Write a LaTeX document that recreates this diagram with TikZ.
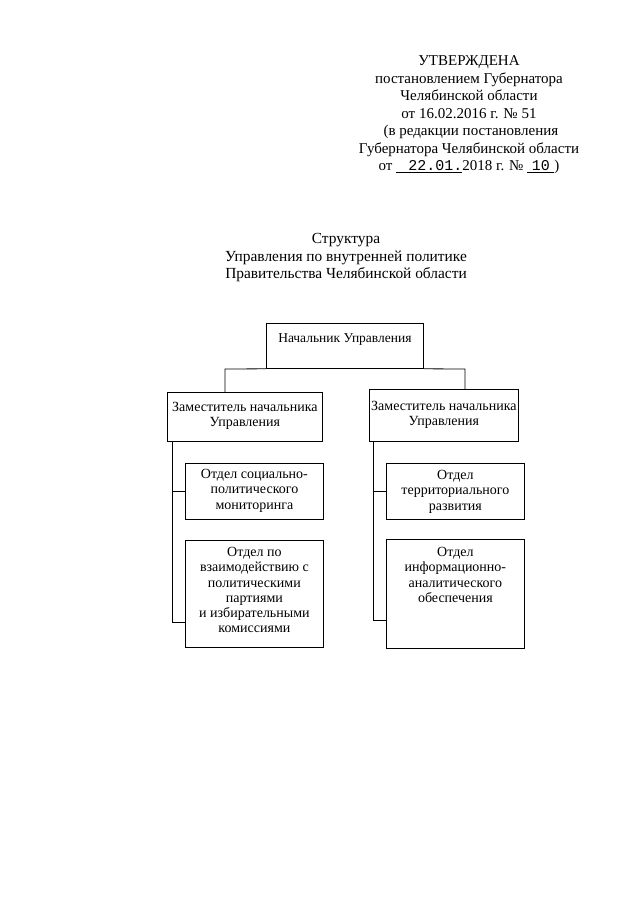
\documentclass[tikz,border=0pt]{standalone}
\usepackage{fontspec}
\setmainfont{Liberation Serif}
\newfontfamily\typefont{Liberation Mono}
\begin{document}
\begin{tikzpicture}[x=1pt,y=-1pt,
  box/.style={draw, line width=0.8pt, inner sep=0pt, anchor=north west},
  txt/.style={font=\fontsize{14}{15.3}\selectfont, align=center, inner sep=0pt, anchor=north},
  hdr/.style={font=\fontsize{15}{17.5}\selectfont, align=center, inner sep=0pt},
  conn/.style={line width=0.8pt}]
\useasboundingbox[fill=white] (0,0) rectangle (640,905);

% header
\node[hdr] (head) at (469,115) {УТВЕРЖДЕНА\\постановлением Губернатора\\Челябинской области\\от 16.02.2016 г. № 51\\\ (в редакции постановления\\Губернатора Челябинской области\\от \underline{\makebox[66pt][r]{\typefont 22.01.}}2018 г. № \underline{\makebox[27pt]{\typefont 10}})};

% title
\node[hdr, font=\fontsize{15.4}{17.5}\selectfont] (title) at (346,258) {Структура\\Управления по внутренней политике\\Правительства Челябинской области};

% boxes
\node[box, minimum width=157pt, minimum height=45pt] (top) at (266,323) {};
\node[box, minimum width=155pt, minimum height=49pt] (d1) at (167,392) {};
\node[box, minimum width=149pt, minimum height=52pt] (d2) at (369,389) {};
\node[box, minimum width=138pt, minimum height=56pt] (o1) at (185,463) {};
\node[box, minimum width=138pt, minimum height=107pt] (o2) at (185,540) {};
\node[box, minimum width=138pt, minimum height=56pt] (o3) at (386,463) {};
\node[box, minimum width=138pt, minimum height=109pt] (o4) at (386,539) {};

% texts
\node[txt, font=\fontsize{13.5}{15.3}\selectfont] (topt) at ([yshift=-10pt]top.north) {Начальник Управления};
\node[txt] (d1t) at ([yshift=-10pt]d1.north) {Заместитель начальника\\Управления};
\node[txt] (d2t) at ([yshift=-12pt]d2.north) {Заместитель начальника\\Управления};
\node[txt] (o1t) at ([yshift=-6pt]o1.north) {Отдел социально-\\политического\\мониторинга};
\node[txt] (o2t) at ([yshift=-7pt]o2.north) {Отдел по\\взаимодействию с\\политическими\\партиями\\и избирательными\\комиссиями};
\node[txt] (o3t) at ([yshift=-7pt]o3.north) {Отдел\\территориального\\развития};
\node[txt] (o4t) at ([yshift=-8pt]o4.north) {Отдел\\информационно-\\аналитического\\обеспечения};

% connectors
\coordinate (jl) at (225,369);
\coordinate (jr) at (465,369);
\draw[conn] (top.south west) -- (jl) -- (jl |- d1.north);
\draw[conn] (top.south east) -- (jr) -- (jr |- d2.north);

\coordinate (sl) at (172,441);
\coordinate (slb) at (172,622);
\draw[conn] (sl) -- (slb) -- (slb -| o2.west);
\draw[conn] (sl |- o1.west) -- (o1.west);

\coordinate (sr) at (373,441);
\coordinate (srb) at (373,620);
\draw[conn] (sr) -- (srb) -- (srb -| o4.west);
\draw[conn] (sr |- o3.west) -- (o3.west);
\end{tikzpicture}
\end{document}
